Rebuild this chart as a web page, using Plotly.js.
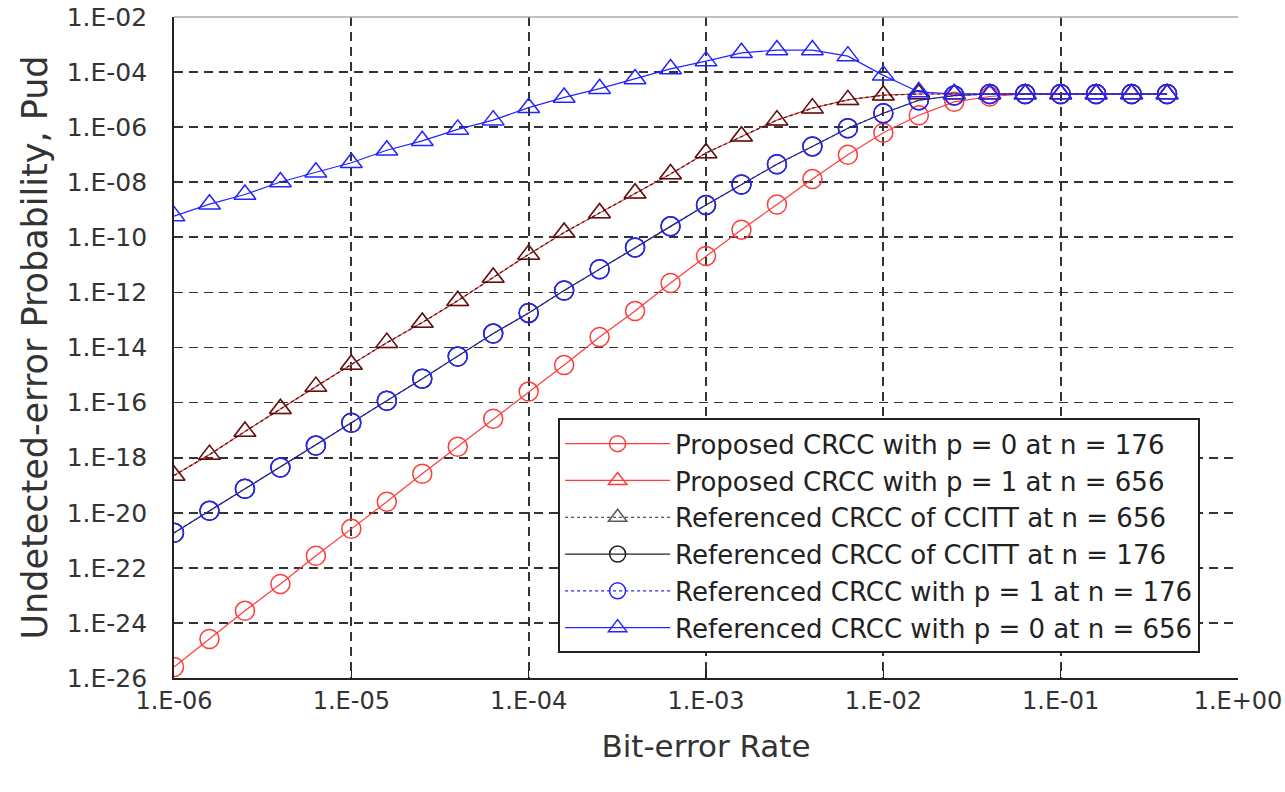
<!DOCTYPE html>
<html><head><meta charset="utf-8">
<script src="https://cdn.plot.ly/plotly-3.0.1.min.js"></script>
<style>html,body{margin:0;padding:0;background:#fff;}</style>
</head><body><div id="chart" style="width:1285px;height:792px;"></div>
<script>
// Bit-error rate (x) — 5 points per decade
const bitErrorRate = [1e-6, 1.585e-6, 2.512e-6, 3.981e-6, 6.310e-6,
  1e-5, 1.585e-5, 2.512e-5, 3.981e-5, 6.310e-5,
  1e-4, 1.585e-4, 2.512e-4, 3.981e-4, 6.310e-4,
  1e-3, 1.585e-3, 2.512e-3, 3.981e-3, 6.310e-3,
  1e-2, 1.585e-2, 2.512e-2, 3.981e-2, 6.310e-2,
  1e-1, 1.585e-1, 2.512e-1, 3.981e-1];

// Proposed CRCC with p = 0 at n = 176
const proposedP0n176 = [2.5e-26, 2.6e-25, 2.75e-24, 2.6e-23, 2.75e-22,
  2.6e-21, 2.5e-20, 2.6e-19, 2.5e-18, 2.6e-17,
  2.5e-16, 2.3e-15, 2.4e-14, 2.1e-13, 2.2e-12,
  2.1e-11, 1.9e-10, 1.55e-9, 1.3e-8, 1.0e-7,
  6.3e-7, 2.7e-6, 8.3e-6, 1.3e-5, 1.6e-5,
  1.6e-5, 1.6e-5, 1.6e-5, 1.6e-5];

// Proposed CRCC with p = 1 at n = 656
const proposedP1n656 = [2.24e-19, 1.29e-18, 8.9e-18, 6.0e-17, 3.8e-16,
  2.4e-15, 1.5e-14, 8.1e-14, 5.0e-13, 3.5e-12,
  2.4e-11, 1.5e-10, 7.6e-10, 4.0e-9, 2.0e-8,
  1.15e-7, 4.7e-7, 1.8e-6, 4.9e-6, 9.8e-6,
  1.45e-5, 1.6e-5, 1.6e-5, 1.6e-5, 1.6e-5,
  1.6e-5, 1.6e-5, 1.6e-5, 1.6e-5];

// Referenced CRCC of CCITT at n = 656
const ccittN656 = [2.24e-19, 1.29e-18, 8.9e-18, 6.0e-17, 3.8e-16,
  2.4e-15, 1.5e-14, 8.1e-14, 5.0e-13, 3.5e-12,
  2.4e-11, 1.5e-10, 7.6e-10, 4.0e-9, 2.0e-8,
  1.15e-7, 4.7e-7, 1.8e-6, 4.9e-6, 9.8e-6,
  1.45e-5, 1.6e-5, 1.6e-5, 1.6e-5, 1.6e-5,
  1.6e-5, 1.6e-5, 1.6e-5, 1.6e-5];

// Referenced CRCC of CCITT at n = 176
const ccittN176 = [1.86e-21, 1.17e-20, 7.4e-20, 4.4e-19, 2.75e-18,
  1.86e-17, 1.17e-16, 7.4e-16, 4.7e-15, 3.2e-14,
  1.8e-13, 1.17e-12, 6.9e-12, 4.3e-11, 2.5e-10,
  1.5e-9, 8.3e-9, 4.5e-8, 2.0e-7, 9.1e-7,
  3.2e-6, 9.5e-6, 1.4e-5, 1.6e-5, 1.6e-5,
  1.6e-5, 1.6e-5, 1.6e-5, 1.6e-5];

// Referenced CRCC with p = 1 at n = 176
const refP1n176 = [1.86e-21, 1.17e-20, 7.4e-20, 4.4e-19, 2.75e-18,
  1.86e-17, 1.17e-16, 7.4e-16, 4.7e-15, 3.2e-14,
  1.8e-13, 1.17e-12, 6.9e-12, 4.3e-11, 2.5e-10,
  1.5e-9, 8.3e-9, 4.5e-8, 2.0e-7, 9.1e-7,
  3.2e-6, 9.5e-6, 1.4e-5, 1.6e-5, 1.6e-5,
  1.6e-5, 1.6e-5, 1.6e-5, 1.6e-5];

// Referenced CRCC with p = 0 at n = 656
const refP0n656 = [5.9e-10, 1.6e-9, 3.6e-9, 1.02e-8, 2.3e-8,
  5.1e-8, 1.45e-7, 3.2e-7, 8.3e-7, 1.8e-6,
  5.1e-6, 1.2e-5, 2.5e-5, 5.6e-5, 1.3e-4,
  2.5e-4, 5.0e-4, 6.3e-4, 6.3e-4, 3.8e-4,
  7.6e-5, 1.9e-5, 1.6e-5, 1.6e-5, 1.6e-5,
  1.6e-5, 1.6e-5, 1.6e-5, 1.6e-5];

const xTickVals = [1e-6, 1e-5, 1e-4, 1e-3, 1e-2, 1e-1, 1];
const xTickText = ['1.E-06', '1.E-05', '1.E-04', '1.E-03', '1.E-02', '1.E-01', '1.E+00'];
const yTickVals = [1e-2, 1e-4, 1e-6, 1e-8, 1e-10, 1e-12, 1e-14, 1e-16, 1e-18, 1e-20, 1e-22, 1e-24, 1e-26];
const yTickText = ['1.E-02', '1.E-04', '1.E-06', '1.E-08', '1.E-10', '1.E-12', '1.E-14', '1.E-16', '1.E-18', '1.E-20', '1.E-22', '1.E-24', '1.E-26'];

const RED = '#ff3b3b', BLUE = '#2424ff', BLACK = '#222222';
const MS = 19;

function tr(name, y, color, dash, symbol, markerColor) {
  return {
    type: 'scatter', mode: 'lines+markers', name: name,
    x: bitErrorRate, y: y,
    line: {color: color, width: 1.2, dash: dash},
    marker: {symbol: symbol, size: MS, color: markerColor || color, line: {width: 1.5, color: markerColor || color}}
  };
}

const data = [
  tr('Proposed CRCC with p = 0 at n = 176', proposedP0n176, RED, 'solid', 'circle-open'),
  tr('Proposed CRCC with p = 1 at n = 656', proposedP1n656, RED, 'solid', 'triangle-up-open'),
  tr('Referenced CRCC of CCITT at n = 656', ccittN656, BLACK, 'dot', 'triangle-up-open', 'rgba(0,0,0,0.65)'),
  tr('Referenced CRCC of CCITT at n = 176', ccittN176, BLACK, 'solid', 'circle-open'),
  tr('Referenced CRCC with p = 1 at n = 176', refP1n176, BLUE, 'dot', 'circle-open'),
  tr('Referenced CRCC with p = 0 at n = 656', refP0n656, BLUE, 'solid', 'triangle-up-open')
];

const FONT = 'DejaVu Sans, Arial, sans-serif';
const layout = {
  width: 1285, height: 792,
  margin: {l: 174, r: 47, t: 17, b: 114},
  paper_bgcolor: '#ffffff', plot_bgcolor: '#ffffff',
  font: {family: FONT, color: '#333'},
  showlegend: true,
  legend: {
    x: 0.361, y: 0.393, xanchor: 'left', yanchor: 'top',
    bgcolor: '#ffffff', bordercolor: '#222', borderwidth: 2,
    font: {family: FONT, size: 26, color: '#222'},
    itemwidth: 105
  },
  xaxis: {
    type: 'log', range: [-6, 0],
    tickmode: 'array', tickvals: xTickVals, ticktext: xTickText,
    tickfont: {family: FONT, size: 24, color: '#333'},
    ticks: 'inside', ticklen: 8, tickcolor: '#222', tickwidth: 1.5,
    showline: true, linecolor: '#222', linewidth: 1.8,
    showgrid: true, gridcolor: '#333', gridwidth: 1.7, griddash: '9px,6px',
    zeroline: false,
    title: {text: 'Bit-error Rate', font: {family: FONT, size: 31, color: '#333'}, standoff: 22}
  },
  yaxis: {
    type: 'log', range: [-26, -2],
    tickmode: 'array', tickvals: yTickVals, ticktext: yTickText,
    tickfont: {family: FONT, size: 25, color: '#333'},
    ticks: '', ticklabelstandoff: 20,
    showline: true, linecolor: '#222', linewidth: 1.8,
    showgrid: true, gridcolor: '#333', gridwidth: 1.7, griddash: '9px,6px',
    zeroline: false,
    title: {text: 'Undetected-error Probability, Pud', font: {family: FONT, size: 35, color: '#333'}, standoff: 8}
  },
  shapes: [
    {type: 'line', xref: 'paper', yref: 'paper', x0: 0, x1: 1, y0: 1, y1: 1, line: {color: '#aaaaaa', width: 1.5}}
  ]
};

Plotly.newPlot('chart', data, layout, {displayModeBar: false, staticPlot: true});
</script>
</body></html>
